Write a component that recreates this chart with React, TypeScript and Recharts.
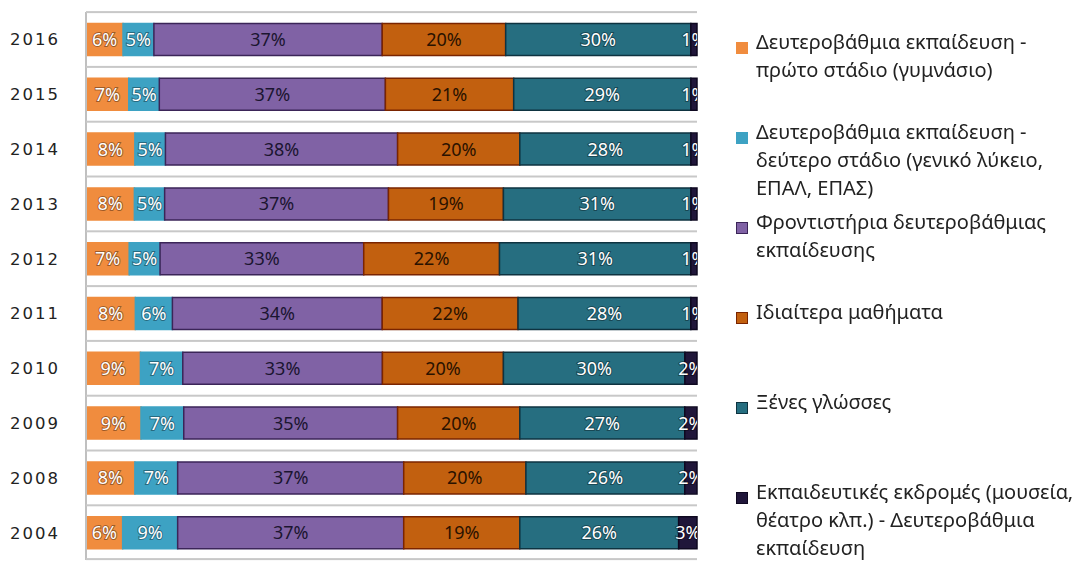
import React from "react";
import {
  BarChart,
  Bar,
  XAxis,
  YAxis,
  Legend,
  LabelList,
} from "recharts";

// years, top to bottom
const years = ["2016", "2015", "2014", "2013", "2012", "2011", "2010", "2009", "2008", "2004"];

// shares (%) per year, same order as years
const gymnasio = [6, 7, 8, 8, 7, 8, 9, 9, 8, 6];
const lykeio = [5, 5, 5, 5, 5, 6, 7, 7, 7, 9];
const frontistiria = [37, 37, 38, 37, 33, 34, 33, 35, 37, 37];
const idiaitera = [20, 21, 20, 19, 22, 22, 20, 20, 20, 19];
const glosses = [30, 29, 28, 31, 31, 28, 30, 27, 26, 26];
const ekdromes = [1, 1, 1, 1, 1, 1, 2, 2, 2, 3];

const seriesNames = [
  "Δευτεροβάθμια εκπαίδευση -\nπρώτο στάδιο (γυμνάσιο)",
  "Δευτεροβάθμια εκπαίδευση -\nδεύτερο στάδιο (γενικό λύκειο,\nΕΠΑΛ, ΕΠΑΣ)",
  "Φροντιστήρια δευτεροβάθμιας\nεκπαίδευσης",
  "Ιδιαίτερα μαθήματα",
  "Ξένες γλώσσες",
  "Εκπαιδευτικές εκδρομές (μουσεία,\nθέατρο κλπ.) - Δευτεροβάθμια\nεκπαίδευση",
];

const data = years.map((year, i) => ({
  year,
  gymnasio: gymnasio[i],
  lykeio: lykeio[i],
  frontistiria: frontistiria[i],
  idiaitera: idiaitera[i],
  glosses: glosses[i],
  ekdromes: ekdromes[i],
}));

const series = [
  { key: "gymnasio", fill: "#F08C3E", stroke: "#F08C3E", text: "#ffffff", halo: true },
  { key: "lykeio", fill: "#3DA2C3", stroke: "#3DA2C3", text: "#ffffff", halo: true },
  { key: "frontistiria", fill: "#8062A5", stroke: "#3B2558", text: "#1b1530", halo: false },
  { key: "idiaitera", fill: "#C2600F", stroke: "#7A2400", text: "#2a1200", halo: false },
  { key: "glosses", fill: "#266E80", stroke: "#0E3340", text: "#ffffff", halo: true },
  { key: "ekdromes", fill: "#20163A", stroke: "#0E0820", text: "#ffffff", halo: true },
];

const WIDTH = 1088;
const HEIGHT = 561;
const MARGIN = { top: 12, right: 391, bottom: 1, left: 0 };
const YAXIS_W = 86;
const PLOT_RIGHT = WIDTH - MARGIN.right;
const PLOT_H = HEIGHT - MARGIN.top - MARGIN.bottom;
const HALF_ROW = PLOT_H / years.length / 2;

// gray separators above each row (and under the last one), drawn with the first series
const RowLines = ({ cy, last }: { cy: number; last: boolean }) => (
  <g>
    <rect x={YAXIS_W} y={cy - HALF_ROW - 1} width={PLOT_RIGHT - YAXIS_W} height={2} fill="#c8c8c8" />
    {last && (
      <rect x={YAXIS_W} y={cy + HALF_ROW - 2} width={PLOT_RIGHT - YAXIS_W} height={2} fill="#c8c8c8" />
    )}
  </g>
);

const makeLabel = (s: (typeof series)[number], idx: number) => (props: any) => {
  const { x, y, width, height, value, index } = props;
  const clipId = `clip-${idx}-${index}`;
  const cy = Number(y) + Number(height) / 2;
  return (
    <g>
      {idx === 0 && <RowLines cy={cy} last={index === years.length - 1} />}
      <defs>
        <clipPath id={clipId}>
          <rect x={0} y={0} width={PLOT_RIGHT} height={HEIGHT} />
        </clipPath>
      </defs>
      <text
        x={x + width / 2}
        y={cy}
        dy="0.36em"
        textAnchor="middle"
        fill={s.text}
        fontSize={18}
        fontFamily="'Noto Sans', sans-serif"
        stroke={s.halo ? "rgba(0,0,0,0.35)" : "none"}
        strokeWidth={s.halo ? 2 : 0}
        paintOrder="stroke"
        clipPath={`url(#${clipId})`}
      >
        {`${value}%`}
      </text>
    </g>
  );
};

const YearTick = (props: any) => {
  const { y, payload } = props;
  return (
    <text
      x={10}
      y={y}
      dy="0.36em"
      textAnchor="start"
      fill="#222"
      fontSize={16.5}
      letterSpacing={2}
      fontFamily="'DejaVu Sans', sans-serif"
    >
      {payload.value}
    </text>
  );
};

const LegendContent = () => (
  <div style={{ fontFamily: "'Noto Sans', sans-serif", fontSize: 20, color: "#222" }}>
    {series.map((s, i) => (
      <div key={s.key} style={{ height: 90, display: "flex", alignItems: "flex-start" }}>
        <span
          style={{
            display: "inline-block",
            width: 10,
            height: 10,
            marginTop: 14,
            marginRight: 8,
            background: s.fill,
            border: `1px solid ${s.stroke}`,
            flex: "none",
          }}
        />
        <span style={{ whiteSpace: "pre-line", lineHeight: "28px" }}>{seriesNames[i]}</span>
      </div>
    ))}
  </div>
);

export default function App() {
  return (
    <div style={{ position: "fixed", left: 0, top: 0, background: "#fff" }}>
      <BarChart
        width={WIDTH}
        height={HEIGHT}
        data={data}
        layout="vertical"
        stackOffset="expand"
        barCategoryGap="21%"
        margin={MARGIN}
      >
        <XAxis type="number" hide domain={[0, 1]} />
        <YAxis
          type="category"
          dataKey="year"
          width={YAXIS_W}
          tick={<YearTick />}
          tickLine={false}
          interval={0}
          axisLine={{ stroke: "#c0c0c0", strokeWidth: 2 }}
        />
        <Legend
          layout="horizontal"
          align="center"
          verticalAlign="middle"
          wrapperStyle={{ left: 736, top: 28, width: 350 }}
          content={<LegendContent />}
        />
        {series.map((s, idx) => (
          <Bar
            key={s.key}
            dataKey={s.key}
            name={seriesNames[idx]}
            stackId="a"
            fill={s.fill}
            stroke={s.stroke}
            strokeWidth={1.5}
            isAnimationActive={false}
          >
            <LabelList dataKey={s.key} content={makeLabel(s, idx)} />
          </Bar>
        ))}
      </BarChart>
    </div>
  );
}
